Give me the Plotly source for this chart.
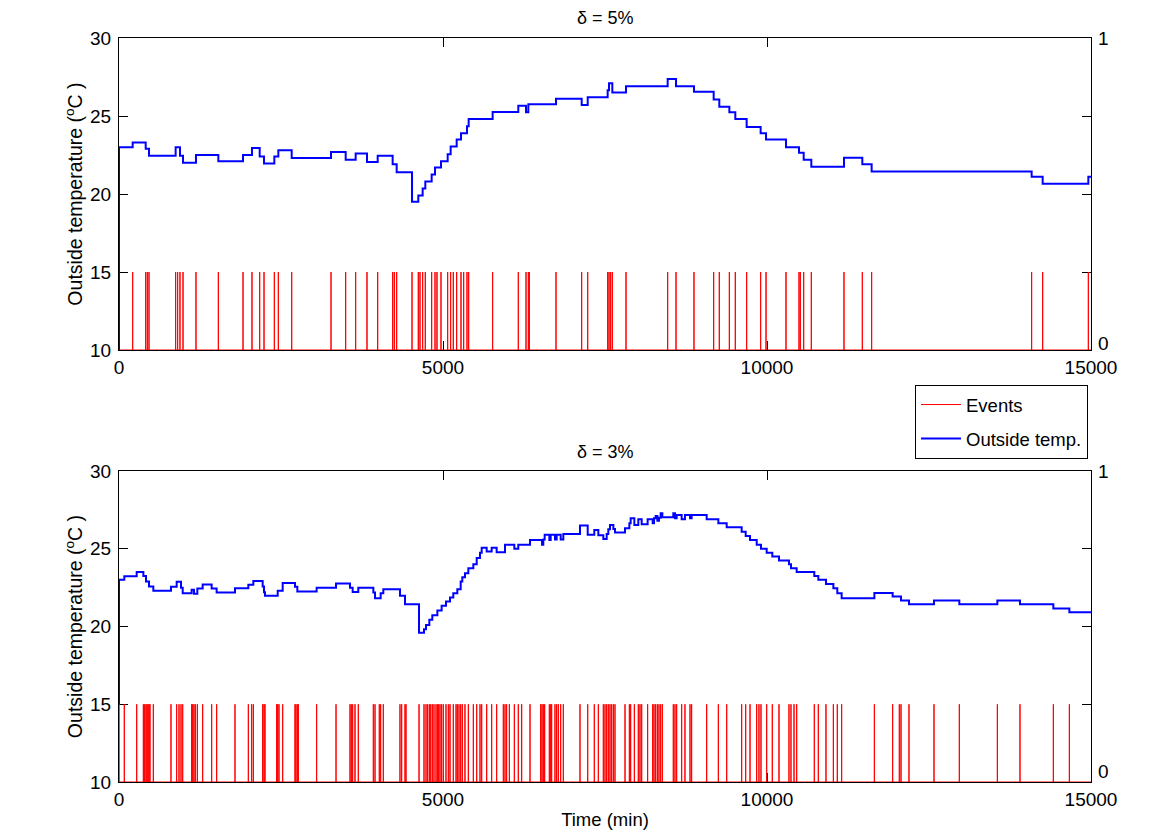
import plotly.graph_objects as go

T_END = 15000

# delta = 5% : event times (min)
events_5 = [211, 412, 437, 463, 874, 905, 941, 988, 1188, 1533, 1914, 2052, 2171, 2238,
            2397, 2459, 2665, 3272, 3498, 3652, 3827, 3992, 4223, 4249, 4285, 4522, 4619,
            4645, 4686, 4727, 4825, 4877, 4907, 4969, 5072, 5118, 5159, 5211, 5278, 5319,
            5370, 5396, 5766, 6162, 6281, 6317, 6332, 6744, 7140, 7233, 7541, 7562, 7587,
            7613, 7824, 8467, 8596, 8873, 9177, 9264, 9419, 9511, 9686, 9902, 9985, 10293,
            10494, 10514, 10566, 10684, 11188, 11471, 11615, 14084, 14254, 14959]

# delta = 5% : outside temperature (sent on delta), step times and values
temp_start_5 = 10
step_time_5 = [0, 211, 412, 463, 874, 941, 988, 1188, 1533, 1914, 2052, 2171, 2238, 2397,
               2459, 2665, 3272, 3498, 3652, 3827, 3992, 4223, 4285, 4522, 4619, 4686, 4727,
               4825, 4877, 4969, 5072, 5118, 5211, 5278, 5370, 5396, 5766, 6162, 6281, 6317,
               6744, 7140, 7233, 7541, 7562, 7613, 7824, 8467, 8596, 8873, 9177, 9264, 9419,
               9511, 9686, 9902, 9985, 10293, 10494, 10566, 10684, 11188, 11471, 11615,
               14084, 14254, 14959]
step_temp_5 = [23.0, 23.3, 22.9, 22.45, 23.0, 22.45, 22.0, 22.5, 22.1, 22.5, 22.95, 22.4,
               21.95, 22.4, 22.8, 22.3, 22.7, 22.2, 22.6, 22.05, 22.45, 21.9, 21.4, 19.5,
               19.9, 20.35, 20.8, 21.25, 21.7, 22.1, 22.55, 23.05, 23.5, 23.9, 24.35, 24.8,
               25.25, 25.66, 25.24, 25.75, 26.1, 25.7, 26.2, 26.65, 27.1, 26.5, 26.9, 27.37,
               26.9, 26.55, 26.05, 25.6, 25.24, 24.8, 24.3, 23.9, 23.5, 23.0, 22.65, 22.2,
               21.75, 22.33, 21.9, 21.45, 21.1, 20.66, 21.1]

# delta = 3% : event times (min)
events_3 = [0, 82, 273, 376, 396, 417, 432, 448, 463, 478, 530, 802, 890, 926, 957, 983,
            1121, 1137, 1157, 1178, 1209, 1291, 1430, 1507, 1790, 1996, 2047, 2073, 2217,
            2238, 2253, 2433, 2449, 2469, 2526, 2716, 2731, 2752, 2767, 3050, 3349, 3565,
            3585, 3606, 3642, 3693, 3925, 3951, 4017, 4038, 4079, 4336, 4362, 4414, 4429,
            4630, 4707, 4738, 4763, 4789, 4810, 4835, 4861, 4892, 4913, 4933, 4954, 4979,
            5005, 5046, 5082, 5108, 5159, 5201, 5221, 5247, 5273, 5298, 5339, 5391, 5468,
            5520, 5571, 5597, 5674, 5751, 5828, 5931, 5957, 5982, 6024, 6101, 6162, 6214,
            6343, 6507, 6528, 6548, 6569, 6641, 6662, 6677, 6728, 6754, 6780, 6816, 6857,
            7114, 7233, 7335, 7397, 7474, 7500, 7526, 7551, 7577, 7603, 7629, 7654, 7809,
            7876, 7896, 7953, 8014, 8040, 8066, 8158, 8236, 8256, 8282, 8308, 8333, 8359,
            8385, 8554, 8580, 8606, 8683, 8734, 8812, 8837, 9069, 9249, 9378, 9609, 9671,
            9738, 9841, 9876, 9907, 9995, 10082, 10185, 10339, 10370, 10417, 10458, 10730,
            10792, 10910, 11024, 11085, 11152, 11657, 11939, 12042, 12068, 12191, 12577,
            12968, 13555, 13904, 14419, 14666]

# delta = 3% : outside temperature, step times and values
temp_start_3 = 15
step_time_3 = [0, 82, 273, 376, 417, 463, 530, 802, 890, 957, 983, 1121, 1157, 1209, 1291,
               1430, 1507, 1790, 1996, 2073, 2217, 2238, 2253, 2449, 2526, 2716, 2752, 3050,
               3349, 3565, 3606, 3693, 3925, 3951, 4038, 4079, 4336, 4414, 4630, 4707, 4738,
               4789, 4835, 4913, 4979, 5046, 5108, 5159, 5221, 5273, 5298, 5339, 5391, 5468,
               5520, 5571, 5597, 5674, 5751, 5828, 5957, 6101, 6162, 6343, 6528, 6548, 6569,
               6641, 6662, 6728, 6754, 6816, 6857, 7114, 7233, 7335, 7397, 7474, 7526, 7551,
               7577, 7629, 7654, 7809, 7876, 7896, 7953, 8014, 8066, 8158, 8236, 8256, 8282,
               8308, 8333, 8359, 8385, 8554, 8580, 8606, 8683, 8734, 8812, 8837, 9069, 9249,
               9378, 9609, 9671, 9738, 9841, 9907, 9995, 10082, 10185, 10339, 10370, 10458,
               10730, 10792, 10910, 11024, 11085, 11152, 11657, 11939, 12068, 12191, 12577,
               12968, 13555, 13904, 14419, 14666]
step_temp_3 = [23.0, 23.23, 23.5, 23.25, 22.9, 22.57, 22.3, 22.55, 22.87, 22.5, 22.14, 22.36,
               22.1, 22.44, 22.7, 22.44, 22.18, 22.46, 22.68, 22.93, 22.57, 22.2, 21.97, 22.3,
               22.8, 22.55, 22.25, 22.5, 22.76, 22.5, 22.22, 22.5, 22.18, 21.82, 22.14, 22.4,
               21.97, 21.43, 19.6, 19.83, 20.1, 20.43, 20.73, 21.03, 21.33, 21.6, 21.86, 22.14,
               22.4, 22.9, 23.17, 23.43, 23.75, 24.0, 24.4, 24.75, 25.07, 24.82, 25.07, 24.78,
               25.25, 25.0, 25.25, 25.57, 25.25, 25.6, 25.9, 25.57, 25.9, 25.6, 25.9, 25.6,
               25.95, 26.5, 25.9, 26.2, 25.87, 25.63, 25.95, 26.25, 26.53, 26.27, 26.04, 26.32,
               26.64, 26.96, 26.53, 26.9, 26.57, 26.9, 26.64, 26.96, 27.1, 26.8, 27.0, 27.28,
               27.02, 27.28, 26.96, 27.17, 26.9, 27.17, 26.96, 27.17, 26.9, 26.64, 26.38, 26.1,
               25.82, 25.57, 25.25, 25.0, 24.75, 24.5, 24.24, 24.0, 23.75, 23.5, 23.25, 23.0,
               22.74, 22.46, 22.14, 21.82, 22.16, 21.93, 21.67, 21.43, 21.67, 21.43, 21.67,
               21.43, 21.16, 20.92]

EV_LOW, EV_HIGH = 10, 15
FONT = "Liberation Sans, Arial, sans-serif"
TICK_FS = 19

# the page body adds an 8px margin, so the figure is made that much smaller
OFF = 8
W, H = 1149 - OFF, 833 - OFF
ML, MT = 119 - OFF, 38 - OFF
MR, MB = W - (1091 - OFF), H - (782 - OFF)
PW, PH = W - ML - MR, H - MT - MB


def px_x(p):
    # screen pixel (reference picture) -> paper x
    return (p - OFF - ML) / PW


def px_y(p):
    return 1 - (p - OFF - MT) / PH


def event_pulses(events):
    xs, ys = [0], [EV_LOW]
    for e in events:
        xs += [e, e, e]
        ys += [EV_LOW, EV_HIGH, EV_LOW]
    xs.append(T_END)
    ys.append(EV_LOW)
    return xs, ys


def temp_steps(start, times, temps):
    xs = [0] + times + [T_END]
    ys = [start] + temps + [temps[-1]]
    return xs, ys


fig = go.Figure()

panels = [
    (events_5, temp_start_5, step_time_5, step_temp_5, "x", "y", True),
    (events_3, temp_start_3, step_time_3, step_temp_3, "x2", "y3", False),
]
for ev, t0, tt, tv, xa, ya, show in panels:
    ex, ey = event_pulses(ev)
    fig.add_trace(go.Scatter(x=ex, y=ey, mode="lines", name="Events",
                             line=dict(color="#ff0000", width=1), legendgroup="ev",
                             xaxis=xa, yaxis=ya, showlegend=show))
    tx, ty = temp_steps(t0, tt, tv)
    fig.add_trace(go.Scatter(x=tx, y=ty, mode="lines", name="Outside temp.",
                             line=dict(color="#0000ff", width=2, shape="hv"),
                             legendgroup="temp", xaxis=xa, yaxis=ya, showlegend=show))

# empty traces so the right-hand axes get drawn
fig.add_trace(go.Scatter(x=[None], y=[None], xaxis="x", yaxis="y2", showlegend=False))
fig.add_trace(go.Scatter(x=[None], y=[None], xaxis="x2", yaxis="y4", showlegend=False))

top_dom = [px_y(350), px_y(38)]
bot_dom = [px_y(782), px_y(471)]

xcommon = dict(domain=[0, 1], range=[0, T_END], tickvals=[0, 5000, 10000, 15000],
               tickformat="d", ticks="inside", ticklen=9, tickcolor="black",
               showline=True, linecolor="black", linewidth=1, mirror="ticks",
               showgrid=False, zeroline=False, automargin=False, layer="below traces",
               tickfont=dict(size=TICK_FS, color="black"))
ycommon = dict(range=[10, 30], tickvals=[10, 15, 20, 25, 30], ticks="inside", ticklen=9,
               tickcolor="black", showline=True, linecolor="black", linewidth=1,
               mirror="ticks", showgrid=False, zeroline=False, automargin=False,
               layer="below traces", ticklabelstandoff=3,
               tickfont=dict(size=TICK_FS, color="black"),
               title=dict(text="Outside temperature (<sup>o</sup>C )",
                          font=dict(size=19.5, color="black"), standoff=2))
ycommon_r = dict(side="right", tickvals=[0, 1], ticks="", showline=False, showgrid=False,
                 zeroline=False, automargin=False, ticklabelstandoff=6,
                 tickfont=dict(size=TICK_FS, color="black"))

fig.update_layout(
    width=W, height=H,
    margin=dict(l=ML, r=MR, t=MT, b=MB),
    paper_bgcolor="white", plot_bgcolor="white",
    font=dict(family=FONT, size=18, color="black"),
    xaxis=dict(anchor="y", **xcommon),
    yaxis=dict(domain=top_dom, anchor="x", **ycommon),
    yaxis2=dict(domain=top_dom, anchor="x", overlaying="y", range=[-0.023, 1.0], **ycommon_r),
    xaxis2=dict(anchor="y3", title=dict(text="Time (min)", font=dict(size=18.5), standoff=4),
                **xcommon),
    yaxis3=dict(domain=bot_dom, anchor="x2", **ycommon),
    yaxis4=dict(domain=bot_dom, anchor="x2", overlaying="y3", range=[-0.037, 1.0],
                **ycommon_r),
    legend=dict(x=px_x(1088), xanchor="right", y=px_y(385), yanchor="top",
                bgcolor="white", bordercolor="black", borderwidth=1, itemwidth=40,
                font=dict(size=18.5, color="black"), tracegroupgap=7),
    annotations=[
        dict(text="δ = 5%", x=px_x(605), y=px_y(18), xref="paper", yref="paper",
             yanchor="middle", showarrow=False, font=dict(size=18)),
        dict(text="δ = 3%", x=px_x(605), y=px_y(452), xref="paper", yref="paper",
             yanchor="middle", showarrow=False, font=dict(size=18)),
    ],
)

fig.write_html("out.html")
